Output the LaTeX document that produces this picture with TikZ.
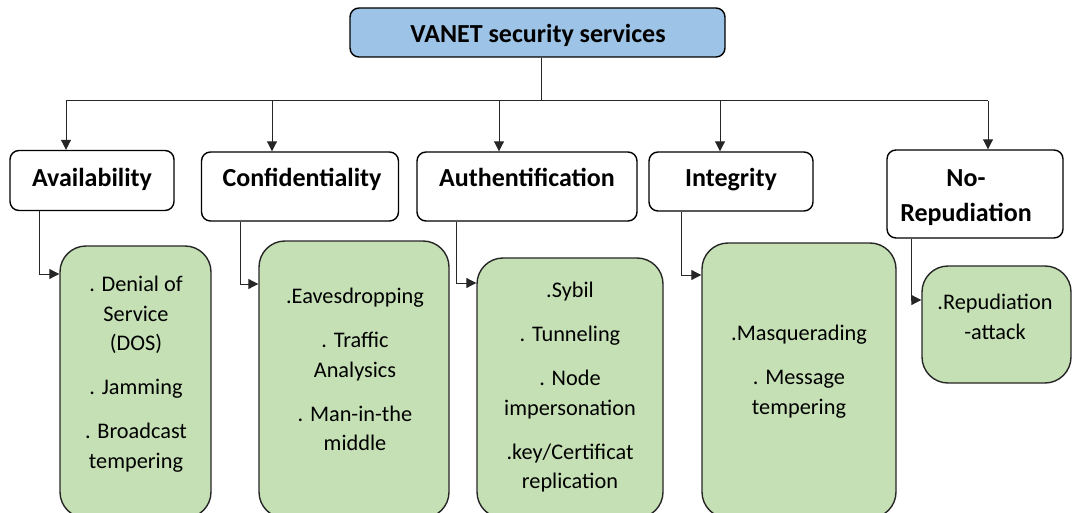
\documentclass[tikz,border=0pt]{standalone}
\usepackage{fontspec}
\setmainfont{Carlito}
\usetikzlibrary{arrows.meta,calc}
\definecolor{topblue}{HTML}{9DC3E6}
\definecolor{leafgreen}{HTML}{C5E0B4}
\tikzset{
 topbox/.style={draw=black, line width=1.4pt, rounded corners=9pt, fill=topblue, inner sep=0pt},
 catbox/.style={draw=black, line width=1.4pt, rounded corners=9pt, fill=white, inner sep=0pt},
 leafbox/.style={draw=black!85, line width=1.4pt, rounded corners=26pt, fill=leafgreen, inner sep=0pt},
 headtext/.style={anchor=base, inner sep=0pt, font=\fontsize{26}{36}\selectfont\bfseries},
 leaftext/.style={align=center, anchor=north, inner sep=0pt, font=\fontsize{22.3}{29.5}\selectfont},
 conn/.style={line width=1pt, draw=black!85},
 arr/.style={conn, -{Triangle[length=10pt,width=10pt]}}
}
\begin{document}
\begin{tikzpicture}[x=1pt,y=-1pt]
\path[use as bounding box, clip] (0,0) rectangle (1073,513);

% top
\node[topbox, minimum width=375pt, minimum height=49pt] (top) at (537.5,32.5) {};
\node[headtext] (topt) at (538,43) {VANET security services};

% categories
\node[catbox, minimum width=164pt, minimum height=60pt] (av) at (92,180.5) {};
\node[headtext] (avt) at (92,187) {Availability};
\node[catbox, minimum width=197pt, minimum height=69pt] (cf) at (300,186.5) {};
\node[headtext] (cft) at (302,187) {Confidentiality};
\node[catbox, minimum width=220pt, minimum height=69pt] (au) at (527,186.5) {};
\node[headtext] (aut) at (527,187) {Authentification};
\node[catbox, minimum width=164pt, minimum height=59pt] (in) at (731,181.5) {};
\node[headtext] (int) at (731,187) {Integrity};
\node[catbox, minimum width=176pt, minimum height=88pt] (nr) at (975,194) {};
\node[headtext] (nrt1) at (966,186) {No-};
\node[headtext] (nrt2) at (966,222) {Repudiation};

% leaves
\node[leafbox, minimum width=151pt, minimum height=272pt] (g1) at (135.5,382) {};
\node[leaftext] (g1t) at (136,276) {. Denial of\\Service\\(DOS)\\[14.5pt]. Jamming\\[14.5pt]. Broadcast\\tempering};
\node[leafbox, minimum width=190pt, minimum height=277pt] (g2) at (354,379.5) {};
\node[leaftext] (g2t) at (355,288) {.Eavesdropping\\[14.5pt]. Traffic\\Analysics\\[14.5pt]. Man-in-the\\middle};
\node[leafbox, minimum width=186pt, minimum height=260pt] (g3) at (570,388) {};
\node[leaftext] (g3t) at (570,282) {.Sybil\\[14.5pt]. Tunneling\\[14.5pt]. Node\\impersonation\\[14.5pt].key/Certificat\\replication};
\node[leafbox, minimum width=194pt, minimum height=275pt] (g4) at (799,380.5) {};
\node[leaftext] (g4t) at (799,325) {.Masquerading\\[14.5pt]. Message\\tempering};
\node[leafbox, minimum width=149pt, minimum height=117pt] (g5) at (996.5,324.5) {};
\node[leaftext] (g5t) at (995,294) {.Repudiation\\-attack};

% bus
\coordinate (bl) at (66,101);
\coordinate (br) at (988,101);
\coordinate (b2) at (272,101);
\coordinate (b3) at (499,101);
\coordinate (b4) at (720,101);
\coordinate (bt) at (541,101);
\draw[conn] (bt |- top.south) -- (bt);
\draw[conn] (bl) -- (br);
\draw[arr] (bl) -- (bl |- av.north);
\draw[arr] (b2) -- (b2 |- cf.north);
\draw[arr] (b3) -- (b3 |- au.north);
\draw[arr] (b4) -- (b4 |- in.north);
\draw[arr] (br) -- (br |- nr.north);

% elbows
\coordinate (e1) at (39,274);
\coordinate (e2) at (240,284);
\coordinate (e3) at (456,283);
\coordinate (e4) at (681,275);
\coordinate (e5) at (911,300);
\draw[arr] (e1 |- av.south) |- (g1.west |- e1);
\draw[arr] (e2 |- cf.south) |- (g2.west |- e2);
\draw[arr] (e3 |- au.south) |- (g3.west |- e3);
\draw[arr] (e4 |- in.south) |- (g4.west |- e4);
\draw[arr] (e5 |- nr.south) |- (g5.west |- e5);
\end{tikzpicture}
\end{document}
